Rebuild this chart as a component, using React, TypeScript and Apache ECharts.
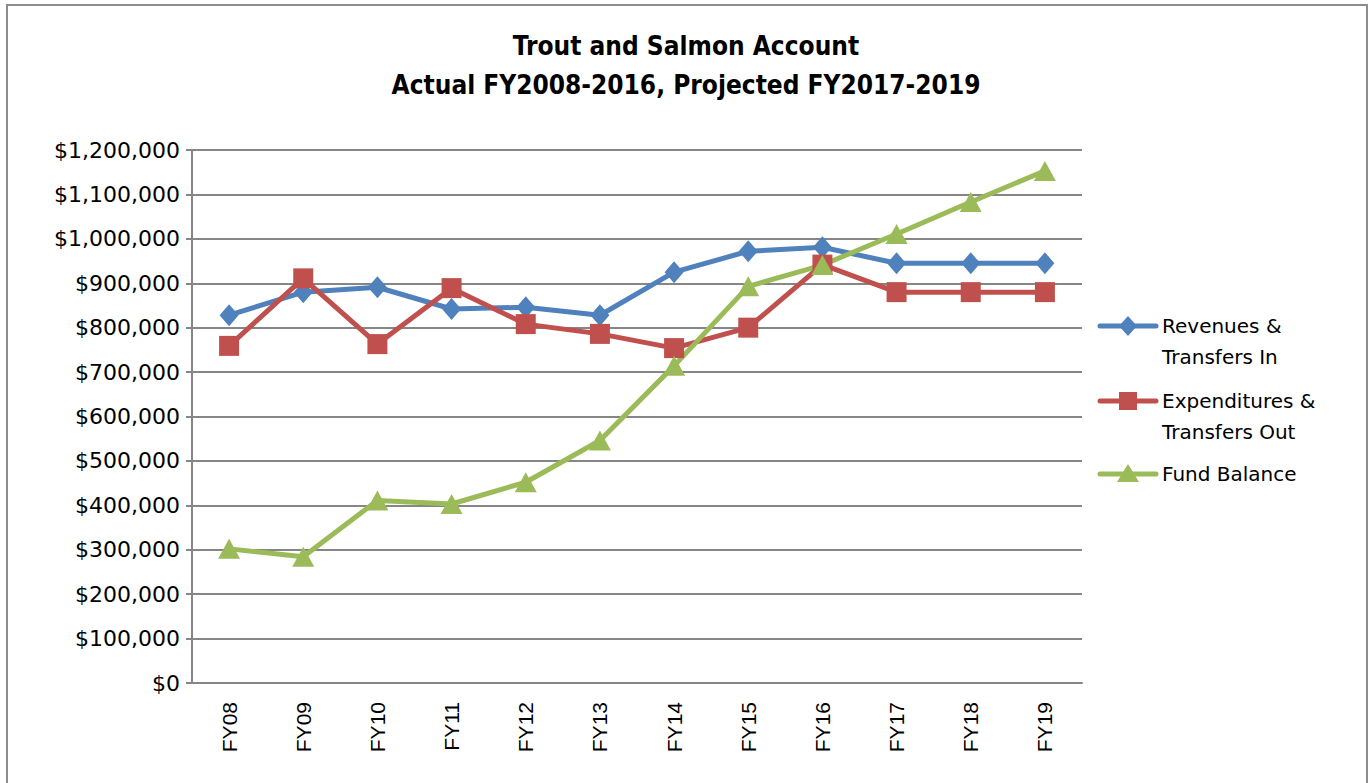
import React, { useEffect, useRef } from "react";
import * as echarts from "echarts";

const categories = ["FY08", "FY09", "FY10", "FY11", "FY12", "FY13", "FY14", "FY15", "FY16", "FY17", "FY18", "FY19"];
const revenues = [828000, 880000, 891000, 842000, 846000, 828000, 925000, 972000, 981000, 945000, 945000, 945000];
const expenditures = [759000, 911000, 763000, 889000, 808000, 786000, 754000, 800000, 942000, 880000, 880000, 880000];
const fundBalance = [302000, 284000, 411000, 403000, 452000, 546000, 714000, 893000, 941000, 1011000, 1083000, 1153000];
const seriesNames = ["Revenues &\nTransfers In", "Expenditures &\nTransfers Out", "Fund Balance"];
const titleLines = ["Trout and Salmon Account", "Actual FY2008-2016, Projected FY2017-2019"];
const colors = ["#4f81bd", "#c0504d", "#9bbb59"];

const fmt = (v: number) => "$" + v.toLocaleString("en-US");

export default function App() {
  const ref = useRef<HTMLDivElement>(null);
  useEffect(() => {
    if (!ref.current) return;
    const chart = echarts.init(ref.current, null, { renderer: "svg" });
    const legendX = 1100;
    const legendItems = [
      { y: 326, sym: "diamond" },
      { y: 401, sym: "rect" },
      { y: 474, sym: "triangle" },
    ];
    const legendGraphics: any[] = [];
    legendItems.forEach((it, i) => {
      const cx = legendX + 28;
      legendGraphics.push({
        type: "line",
        shape: { x1: legendX, y1: it.y, x2: legendX + 56, y2: it.y },
        style: { stroke: colors[i], lineWidth: 5, lineCap: "round" },
      });
      if (it.sym === "diamond") {
        legendGraphics.push({
          type: "polygon",
          shape: { points: [[cx, it.y - 10], [cx + 9, it.y], [cx, it.y + 10], [cx - 9, it.y]] },
          style: { fill: colors[i] },
        });
      } else if (it.sym === "rect") {
        legendGraphics.push({
          type: "rect",
          shape: { x: cx - 9, y: it.y - 9, width: 18, height: 18 },
          style: { fill: colors[i] },
        });
      } else {
        legendGraphics.push({
          type: "polygon",
          shape: { points: [[cx, it.y - 10], [cx + 11, it.y + 8], [cx - 11, it.y + 8]] },
          style: { fill: colors[i] },
        });
      }
      legendGraphics.push({
        type: "text",
        style: {
          text: seriesNames[i],
          x: 1162,
          y: it.y - 15.5,
          font: '20px "DejaVu Sans"',
          lineHeight: 31,
          fill: "#000",
          verticalAlign: "top",
        },
      });
    });

    const titleStyle = {
      fontFamily: '"DejaVu Sans Condensed", "DejaVu Sans"',
      fontWeight: "bold",
      fontSize: 26,
      color: "#000",
    };

    chart.setOption({
      animation: false,
      backgroundColor: "#fff",
      title: [
        { text: titleLines[0], left: "center", top: 28, textStyle: titleStyle },
        { text: titleLines[1], left: "center", top: 67, textStyle: titleStyle },
      ],
      grid: { left: 192, top: 150, right: 290, bottom: 100, containLabel: false },
      xAxis: {
        type: "category",
        data: categories,
        boundaryGap: true,
        axisLine: { lineStyle: { color: "#868686", width: 2 } },
        axisTick: { show: false },
        axisLabel: {
          rotate: 90,
          margin: 19,
          fontFamily: '"Liberation Sans"',
          fontSize: 21,
          color: "#000",
        },
      },
      yAxis: {
        type: "value",
        min: 0,
        max: 1200000,
        interval: 100000,
        axisLine: { show: true, lineStyle: { color: "#868686", width: 2 } },
        axisTick: { show: true, length: 6, lineStyle: { color: "#868686", width: 2 } },
        splitLine: { lineStyle: { color: "#868686", width: 2 } },
        axisLabel: {
          formatter: (v: number) => fmt(v),
          margin: 12,
          fontFamily: '"DejaVu Sans"',
          fontSize: 22,
          color: "#000",
        },
      },
      series: [
        {
          name: seriesNames[0],
          type: "line",
          data: revenues,
          symbol: "diamond",
          symbolSize: [19, 22],
          lineStyle: { color: colors[0], width: 5 },
          itemStyle: { color: colors[0] },
        },
        {
          name: seriesNames[1],
          type: "line",
          data: expenditures,
          symbol: "rect",
          symbolSize: 20,
          lineStyle: { color: colors[1], width: 5 },
          itemStyle: { color: colors[1] },
        },
        {
          name: seriesNames[2],
          type: "line",
          data: fundBalance,
          symbol: "triangle",
          symbolSize: [22, 20],
          lineStyle: { color: colors[2], width: 5 },
          itemStyle: { color: colors[2] },
        },
      ],
      graphic: [
        {
          type: "rect",
          z: -10,
          shape: { x: 7, y: 5, width: 1360, height: 800 },
          style: { fill: "none", stroke: "#8c8c8c", lineWidth: 2 },
        },
        ...legendGraphics,
      ],
    });
    return () => chart.dispose();
  }, []);
  return (
    <div
      ref={ref}
      style={{ position: "absolute", left: 0, top: 0, width: 1372, height: 783 }}
    />
  );
}
